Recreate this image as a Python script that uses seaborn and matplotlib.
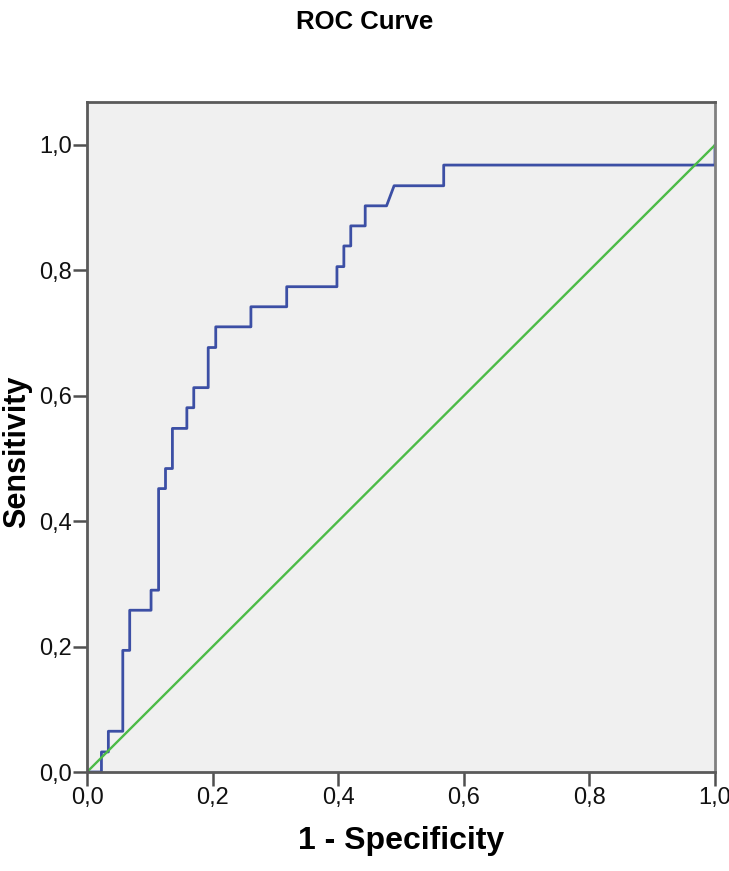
import numpy as np
import pandas as pd
import matplotlib
matplotlib.use("Agg")
import matplotlib.pyplot as plt
import seaborn as sns

# ROC step points (1 - specificity, sensitivity)
fpr = [0.0, 0.023, 0.023, 0.034, 0.034, 0.057, 0.057, 0.068, 0.068, 0.102,
       0.102, 0.114, 0.114, 0.125, 0.125, 0.136, 0.136, 0.159, 0.159, 0.170,
       0.170, 0.193, 0.193, 0.205, 0.205, 0.261, 0.261, 0.318, 0.318, 0.398,
       0.398, 0.409, 0.409, 0.420, 0.420, 0.443, 0.443, 0.477, 0.489, 0.568,
       0.568, 1.0, 1.0]
tpr = [0.0, 0.0, 0.032, 0.032, 0.065, 0.065, 0.194, 0.194, 0.258, 0.258,
       0.290, 0.290, 0.452, 0.452, 0.484, 0.484, 0.548, 0.548, 0.581, 0.581,
       0.613, 0.613, 0.677, 0.677, 0.710, 0.710, 0.742, 0.742, 0.774, 0.774,
       0.806, 0.806, 0.839, 0.839, 0.871, 0.871, 0.903, 0.903, 0.935, 0.935,
       0.968, 0.968, 1.0]
ref_x = [0.0, 1.0]
ref_y = [0.0, 1.0]
ticks = [0.0, 0.2, 0.4, 0.6, 0.8, 1.0]
tick_labels = ["0,0", "0,2", "0,4", "0,6", "0,8", "1,0"]

sns.set_style("white")
plt.rcParams["font.family"] = ["Liberation Sans", "DejaVu Sans"]

fig = plt.figure(figsize=(7.29, 8.71), dpi=100)
ax = fig.add_axes([87 / 729, 99 / 871, 628 / 729, 670 / 871])
ax.set_facecolor("#F0F0F0")

roc = pd.DataFrame({"fpr": fpr, "tpr": tpr})
ref = pd.DataFrame({"x": ref_x, "y": ref_y})
sns.lineplot(data=roc, x="fpr", y="tpr", sort=False, estimator=None,
             color="#3C4FA5", linewidth=2.0, ax=ax)
sns.lineplot(data=ref, x="x", y="y", sort=False, estimator=None,
             color="#4CBB47", linewidth=1.7, ax=ax)

ax.set_xlim(0, 1)
ax.set_ylim(0, 670 / 627)
ax.set_xticks(ticks)
ax.set_xticklabels(tick_labels)
ax.set_yticks(ticks)
ax.set_yticklabels(tick_labels)
ax.tick_params(axis="both", direction="out", length=10, width=1.8,
               color="#505050", labelsize=17, pad=1, labelcolor="#111111",
               bottom=True, left=True)

for side in ["left", "bottom", "right", "top"]:
    ax.spines[side].set_color("#5A5A5A")
    ax.spines[side].set_linewidth(2)
ax.spines["right"].set_color("#808080")

ax.set_xlabel("1 - Specificity", fontsize=23, fontweight="bold", labelpad=12,
              color="black")
ax.set_ylabel("Sensitivity", fontsize=22, fontweight="bold", color="black")
ax.yaxis.set_label_coords(-0.088, 0.478)
fig.text(0.5, 1 - 22 / 871, "ROC Curve", ha="center", va="center",
         fontsize=18.5, fontweight="bold", color="black")

fig.savefig("out.png", dpi=100)
